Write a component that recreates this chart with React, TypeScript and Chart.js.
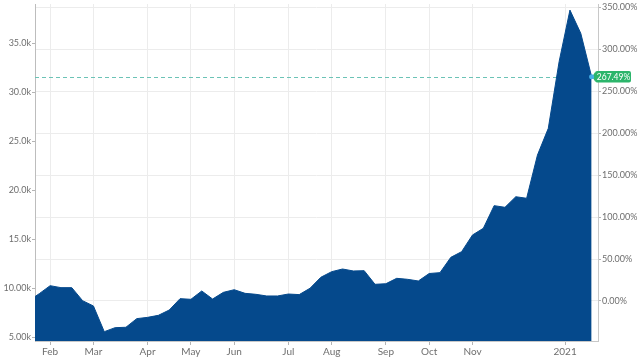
import React, { useEffect, useRef } from "react";
import { Chart, registerables } from "chart.js";

Chart.register(...registerables);

// Weekly closing values (thousands), first week is partially outside the view
const prices = [
  8.7, 9.45, 10.26, 10.06, 10.06, 8.73, 8.19, 5.57, 5.98, 6.02,
  6.9, 7.03, 7.24, 7.78, 8.94, 8.87, 9.72, 8.9, 9.58, 9.85,
  9.48, 9.38, 9.21, 9.21, 9.41, 9.35, 10.0, 11.12, 11.69, 11.96,
  11.76, 11.79, 10.4, 10.46, 11.01, 10.91, 10.74, 11.5, 11.59, 13.15,
  13.73, 15.43, 16.11, 18.42, 18.25, 19.33, 19.17, 23.58, 26.3, 33.1,
  38.36, 35.99, 31.57,
];
const weeks = prices.map((_, i) => i);

const monthTickPositions = [2, 6, 11, 15, 19, 24, 28, 33, 37, 41, 49.55];
const monthTickLabels = ["Feb", "Mar", "Apr", "May", "Jun", "Jul", "Aug", "Sep", "Oct", "Nov", "2021"];

const priceTicks = [5, 10, 15, 20, 25, 30, 35];
const priceTickLabels = ["5.00k", "10.00k", "15.0k", "20.0k", "25.0k", "30.0k", "35.0k"];

const changeTicks = [0, 50, 100, 150, 200, 250, 300, 350];
const changeTickLabels = ["0.00%", "50.00%", "100.00%", "150.00%", "200.00%", "250.00%", "300.00%", "350.00%"];

const lastChange = 267.49;

const FONT = "Lato";
const TICK_COLOR = "#6e6e6e";

const overlayPlugin = {
  id: "lastValueOverlay",
  beforeDatasetsDraw(chart: any) {
    const { ctx, chartArea, scales } = chart;
    const lastIdx = prices.length - 1;
    const x = scales.x.getPixelForValue(weeks[lastIdx]);
    const y = scales.y.getPixelForValue(prices[lastIdx]);
    ctx.save();
    ctx.beginPath();
    ctx.rect(chartArea.left, chartArea.top, chartArea.right - chartArea.left, chartArea.bottom - chartArea.top);
    ctx.clip();
    ctx.setLineDash([4, 3]);
    ctx.strokeStyle = "#6cc3b6";
    ctx.lineWidth = 1;
    ctx.beginPath();
    ctx.moveTo(chartArea.left, Math.round(y) + 0.5);
    ctx.lineTo(x, Math.round(y) + 0.5);
    ctx.stroke();
    ctx.restore();
  },
  afterDraw(chart: any) {
    const { ctx, scales } = chart;
    const lastIdx = prices.length - 1;
    const x = scales.x.getPixelForValue(weeks[lastIdx]);
    const y = scales.y.getPixelForValue(prices[lastIdx]);
    ctx.save();
    // green label with pointer
    const left = x + 3.5;
    const right = 631;
    const top = y - 5.8;
    const bottom = y + 5.8;
    const r = 2;
    ctx.fillStyle = "#2cb56b";
    ctx.beginPath();
    ctx.moveTo(x + 0.5, y);
    ctx.lineTo(left, top + 1);
    ctx.lineTo(left, top + r);
    ctx.quadraticCurveTo(left, top, left + r, top);
    ctx.lineTo(right - r, top);
    ctx.quadraticCurveTo(right, top, right, top + r);
    ctx.lineTo(right, bottom - r);
    ctx.quadraticCurveTo(right, bottom, right - r, bottom);
    ctx.lineTo(left + r, bottom);
    ctx.quadraticCurveTo(left, bottom, left, bottom - r);
    ctx.lineTo(left, bottom - 1);
    ctx.closePath();
    ctx.fill();
    ctx.fillStyle = "#ffffff";
    ctx.font = `8.5px ${FONT}`;
    ctx.textAlign = "center";
    ctx.textBaseline = "middle";
    ctx.fillText(lastChange.toFixed(2) + "%", (left + right) / 2 + 0.5, y + 0.5);
    // point marker
    ctx.fillStyle = "#45aee6";
    ctx.beginPath();
    ctx.arc(x, y, 2.5, 0, Math.PI * 2);
    ctx.fill();
    ctx.restore();
  },
};

export default function App() {
  const canvasRef = useRef<HTMLCanvasElement | null>(null);

  useEffect(() => {
    document.body.style.margin = "0";
    const canvas = canvasRef.current;
    if (!canvas) return;
    const chart = new Chart(canvas, {
      type: "line",
      data: {
        datasets: [
          {
            data: weeks.map((w, i) => ({ x: w, y: prices[i] })),
            yAxisID: "y",
            borderColor: "#05498c",
            borderWidth: 1,
            backgroundColor: "#05498c",
            fill: "start",
            pointRadius: 0,
            tension: 0,
          },
        ],
      },
      options: {
        animation: false,
        responsive: false,
        maintainAspectRatio: false,
        layout: { padding: { top: 4, left: 0, right: 0, bottom: 0 } },
        plugins: {
          legend: { display: false },
          tooltip: { enabled: false },
        },
        scales: {
          x: {
            type: "linear",
            min: 0.603,
            max: 52.59,
            afterBuildTicks: (scale: any) => {
              scale.ticks = monthTickPositions.map((v) => ({ value: v }));
            },
            afterFit: (scale: any) => {
              scale.height = 22;
              scale.paddingLeft = 0;
              scale.paddingRight = 0;
            },
            ticks: {
              autoSkip: false,
              maxRotation: 0,
              padding: 1,
              color: TICK_COLOR,
              font: { family: FONT, size: 10 },
              callback: (_v: any, i: number) => monthTickLabels[i],
            },
            grid: {
              color: "#ececec",
              tickColor: "#b5b5b5",
              tickLength: 4,
              lineWidth: 1,
            },
            border: { color: "#c8c8c8" },
          },
          y: {
            type: "linear",
            position: "left",
            min: 4.62,
            max: 38.98,
            afterBuildTicks: (scale: any) => {
              scale.ticks = priceTicks.map((v) => ({ value: v }));
            },
            afterFit: (scale: any) => {
              scale.width = 35;
              scale.paddingTop = 0;
              scale.paddingBottom = 0;
            },
            ticks: {
              padding: 1,
              color: TICK_COLOR,
              font: { family: FONT, size: 9 },
              callback: (_v: any, i: number) => priceTickLabels[i],
            },
            grid: {
              drawOnChartArea: false,
              tickColor: "#b5b5b5",
              tickLength: 3,
            },
            border: { color: "#bdbdbd" },
          },
          y1: {
            type: "linear",
            position: "right",
            min: -47.7,
            max: 353.9,
            afterBuildTicks: (scale: any) => {
              scale.ticks = changeTicks.map((v) => ({ value: v }));
            },
            afterFit: (scale: any) => {
              scale.width = 42;
              scale.paddingTop = 0;
              scale.paddingBottom = 0;
            },
            ticks: {
              padding: 1,
              color: TICK_COLOR,
              font: { family: FONT, size: 9 },
              callback: (_v: any, i: number) => changeTickLabels[i],
            },
            grid: {
              color: "#ececec",
              tickColor: "#b5b5b5",
              tickLength: 3,
            },
            border: { color: "#c8c8c8" },
          },
        },
      },
      plugins: [overlayPlugin],
    } as any);
    return () => chart.destroy();
  }, []);

  return (
    <div style={{ width: 640, height: 363, position: "relative" }}>
      <canvas ref={canvasRef} width={640} height={363} style={{ display: "block" }} />
    </div>
  );
}
